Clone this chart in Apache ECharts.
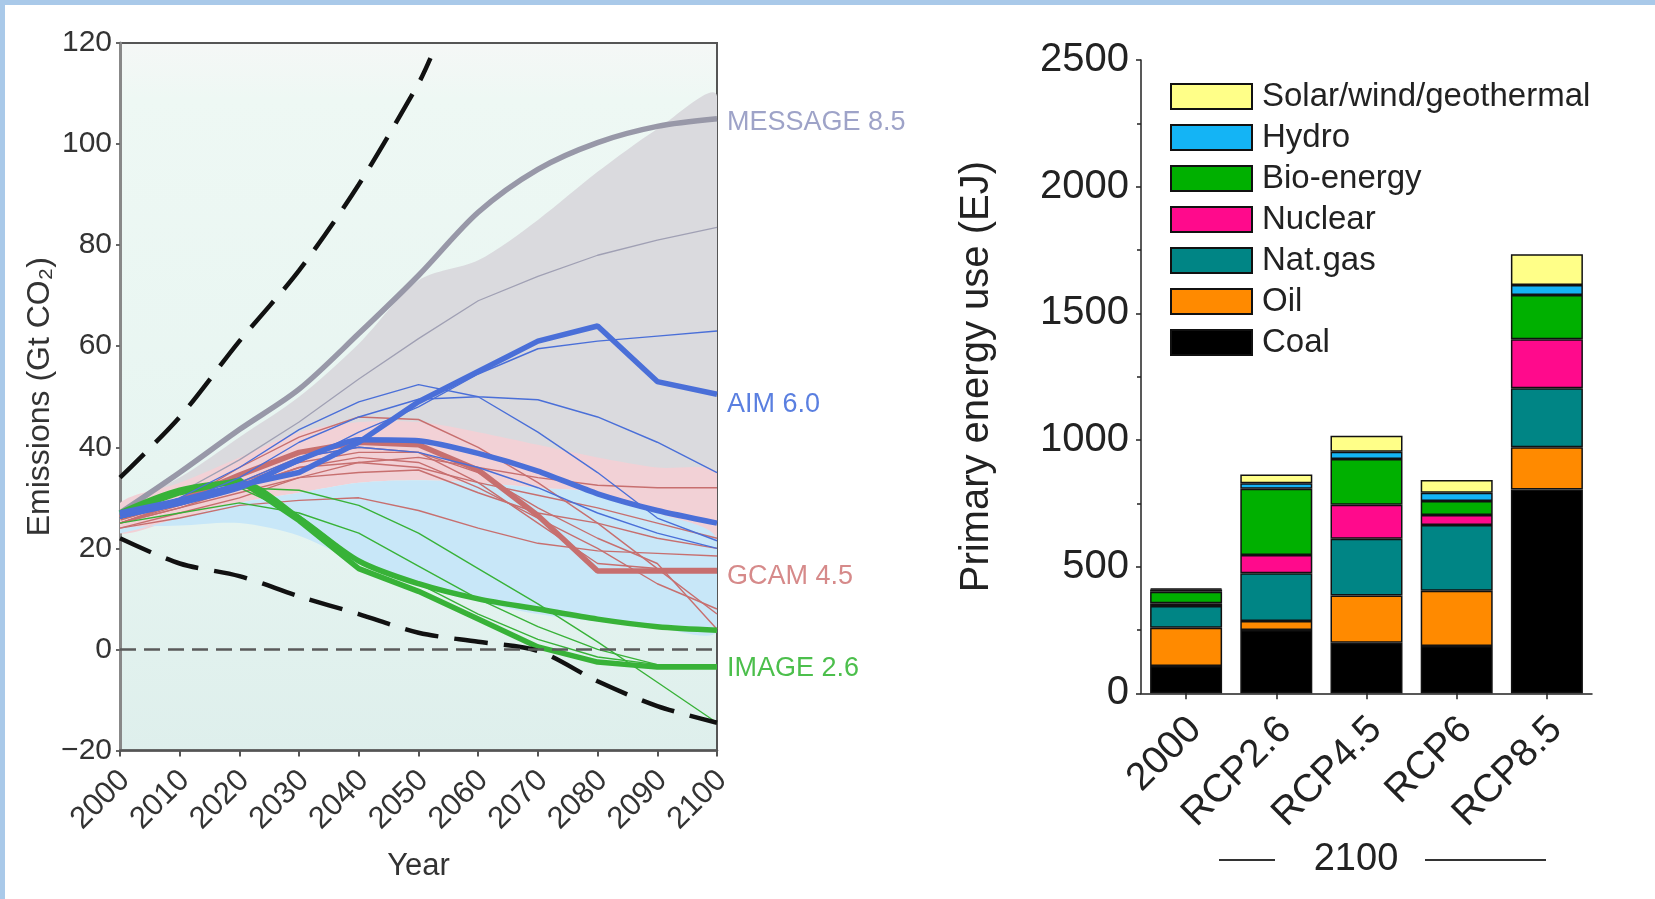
<!DOCTYPE html>
<html>
<head>
<meta charset="utf-8">
<script src="https://cdn.jsdelivr.net/npm/echarts@6/dist/echarts.min.js"></script>
<style>
  html, body { margin:0; padding:0; background:#fff; }
  #chart { position:absolute; left:0; top:0; width:1655px; height:899px; }
  #btop { position:absolute; left:0; top:0; width:1655px; height:5px; background:#a9c9e9; }
  #bleft { position:absolute; left:0; top:0; width:5px; height:899px; background:#a9c9e9; }
</style>
</head>
<body>
<div id="chart"></div>
<div id="btop"></div>
<div id="bleft"></div>
<script>
// ---------- Left panel: emissions (Gt CO2) ----------
const years = [2000, 2010, 2020, 2030, 2040, 2050, 2060, 2070, 2080, 2090, 2100];
const yTicksLeft = [-20, 0, 20, 40, 60, 80, 100, 120];

const upperDashYears = [2000, 2010, 2020, 2030, 2040, 2050, 2052];
const upperDash = [34, 46, 61, 75, 92, 112, 117];
const lowerDash = [22, 17, 14.5, 10.5, 7, 3.3, 1.5, -0.3, -6.3, -11.2, -14.5];

const grayBandLow  = [26, 30, 34, 37, 40, 40, 38, 36, 34, 33, 33];
const grayBandHigh = [28, 34, 42, 50, 60.5, 73, 77, 85, 94.5, 103, 109.5];
const pinkBandLow  = [23, 26, 29, 31, 33, 33.5, 33, 32, 31, 27, 22];
const pinkBandHigh = [29, 33, 38, 43, 45, 45, 43, 40.5, 38, 36, 35];
const blueBandLow  = [24, 24.5, 25, 22.5, 17, 12.5, 9.5, 7, 5.5, 4.3, 3.5];
const blueBandHigh = [23, 26, 29, 31, 33, 33.5, 33, 32, 31, 27, 22];

const message85 = [27, 35, 43.5, 51.5, 62.5, 74, 86.5, 95, 100.3, 103.5, 105];
const messageThin = [26, 31, 37.5, 45, 53.5, 61.5, 69, 73.8, 78, 81, 83.5];

const aim60 = [27, 29.5, 32.5, 35, 41, 49, 55, 61, 64, 53, 50.5];
const blueThick2 = [26.5, 29, 32, 37.5, 41.5, 41.3, 38.8, 35.3, 30.8, 27.5, 25];
const blueThin1 = [26, 30, 36, 43.5, 49, 52.4, 50, 49.4, 46, 41, 35];
const blueThin2 = [26, 29, 34, 41, 46, 49.5, 50, 43, 35, 26, 21.5];
const blueThin3 = [26, 28.5, 32, 37, 43, 48, 54.5, 59.5, 61, 62, 63];
const blueThin4 = [26, 29, 33, 38, 40, 39, 36, 32, 27, 23, 20];

const gcam45 = [26, 29.5, 34.5, 39, 41, 40.5, 35.5, 26.5, 15.5, 15.5, 15.5];
const redThin1 = [25, 29, 36, 42, 46, 45.5, 40, 33, 25, 16, 7];
const redThin2 = [25, 29, 33, 38, 40, 39, 35, 28, 22, 17, 4];
const redThin3 = [24, 27, 30, 34, 37, 38, 36, 34, 32.5, 32, 32];
const redThin4 = [24, 26, 28.5, 29.5, 30, 27.5, 24, 21, 19.5, 19, 18.5];
const redThin5 = [25, 28, 32, 36, 37, 36, 33, 30.5, 28, 25, 22];
const redThin6 = [25, 28, 31, 34, 35, 35.5, 31, 27, 25, 22, 20];
const redThin7 = [25, 29, 33, 37, 39, 39, 33, 25, 17, 16, 16];
const redThin8 = [25, 28.5, 32, 36, 38, 37, 32, 26, 20, 13, 8];

const image26 = [27, 31, 33.5, 25.5, 16, 11.5, 6, 0.5, -2.5, -3.5, -3.5];
const greenThick2 = [27, 31.5, 33, 26, 17.5, 13, 10, 8, 6, 4.5, 3.8];
const greenThin1 = [26, 29, 32, 31.5, 28.5, 23, 16, 9, 1.5, -6.5, -14.5];
const greenThin2 = [25, 27, 29, 27, 23, 16.5, 10, 4.5, 0, -3, -3.5];
const greenThin3 = [26, 29, 32, 26.5, 17.5, 13, 7, 2, -1.5, -3, -3];

// ---------- Right panel: primary energy use (EJ) ----------
const categories = ['2000', 'RCP2.6', 'RCP4.5', 'RCP6', 'RCP8.5'];
const coal    = [108, 250, 200, 187, 805];
const oil     = [151, 35, 186, 218, 166];
const natgas  = [86, 189, 224, 259, 233];
const nuclear = [10, 72, 134, 40, 194];
const bio     = [46, 261, 181, 55, 174];
const hydro   = [9, 22, 29, 33, 40];
const solar   = [4, 35, 63, 50, 121];
const energyNames = ['Coal', 'Oil', 'Nat.gas', 'Nuclear', 'Bio-energy', 'Hydro', 'Solar/wind/geothermal'];
const energyColors = ['#000000', '#ff8a00', '#008585', '#ff0a8c', '#00b000', '#14b4f5', '#ffff88'];

// ---------- build ----------
const FONT = '"Liberation Sans", Arial, Helvetica, sans-serif';
const pairs = (xs, ys) => xs.map((x, i) => [x, ys[i]]);

function ln(name, xs, data, color, width, extra) {
  return Object.assign({
    type: 'line', name: name, xAxisIndex: 0, yAxisIndex: 0,
    data: pairs(xs, data), symbol: 'none', silent: true,
    lineStyle: { color: color, width: width }, itemStyle: { color: color }
  }, extra || {});
}
function band(key, low, high, color) {
  return {
    type: 'custom', name: key, xAxisIndex: 0, yAxisIndex: 0, silent: true, clip: true,
    data: [[years[0], low[0]]],
    renderItem: function (params, api) {
      const top = years.map((y, i) => api.coord([y, high[i]]));
      const bot = years.map((y, i) => api.coord([y, low[i]])).reverse();
      return { type: 'polygon', shape: { points: top.concat(bot), smooth: 0.3 }, style: { fill: color } };
    }
  };
}
function endLbl(text, color, dy) {
  return { show: true, formatter: text, color: color, fontSize: 27, fontFamily: FONT, distance: 10, offset: [0, dy] };
}

const BLUE = '#4a6fd8', RED = '#c76f6f', GREEN = '#38b238', GRAY = '#9898a8';
const TW = 5.5;

const series = [
  band('gray', grayBandLow, grayBandHigh, '#dadade'),
  band('pink', pinkBandLow, pinkBandHigh, '#f2d1d6'),
  band('blue', blueBandLow, blueBandHigh, '#c8e7f8'),
  ln('messageThin', years, messageThin, '#a0a0b4', 1.3),
  ln('MESSAGE 8.5', years, message85, GRAY, TW, { smooth: 0.3, endLabel: endLbl('MESSAGE 8.5', '#9ea3c8', 4) }),
  ln('r1', years, redThin1, RED, 1.4), ln('r2', years, redThin2, RED, 1.4),
  ln('r3', years, redThin3, RED, 1.4), ln('r4', years, redThin4, RED, 1.4),
  ln('r5', years, redThin5, RED, 1.4), ln('r6', years, redThin6, RED, 1.4),
  ln('r7', years, redThin7, RED, 1.4), ln('r8', years, redThin8, RED, 1.4),
  ln('GCAM 4.5', years, gcam45, RED, TW, { endLabel: endLbl('GCAM 4.5', '#d68a8a', 5) }),
  ln('g1', years, greenThin1, GREEN, 1.4), ln('g2', years, greenThin2, GREEN, 1.4),
  ln('g3', years, greenThin3, GREEN, 1.4),
  ln('greenThick2', years, greenThick2, GREEN, TW, { smooth: 0.3 }),
  ln('IMAGE 2.6', years, image26, GREEN, TW, { endLabel: endLbl('IMAGE 2.6', '#4cbf4c', 1) }),
  ln('b1', years, blueThin1, BLUE, 1.4), ln('b2', years, blueThin2, BLUE, 1.4),
  ln('b3', years, blueThin3, BLUE, 1.4), ln('b4', years, blueThin4, BLUE, 1.4),
  ln('blueThick2', years, blueThick2, BLUE, TW, { smooth: 0.2 }),
  ln('AIM 6.0', years, aim60, BLUE, TW, { endLabel: endLbl('AIM 6.0', '#5a7fe0', 10) }),
  ln('upperDash', upperDashYears, upperDash, '#111', 4.5, { smooth: 0.3, lineStyle: { color: '#111', width: 4.5, type: [34, 16] } }),
  ln('lowerDash', years, lowerDash, '#111', 4.5, {
    smooth: 0.3, lineStyle: { color: '#111', width: 4.5, type: [34, 16] },
    markLine: { silent: true, symbol: 'none', label: { show: false },
      lineStyle: { color: '#5a5a5a', width: 2.5, type: [16, 8] }, data: [{ yAxis: 0 }] }
  })
];

const energyData = [coal, oil, natgas, nuclear, bio, hydro, solar];
energyNames.forEach((n, i) => {
  series.push({
    type: 'bar', name: n, stack: 'energy', xAxisIndex: 1, yAxisIndex: 1,
    data: energyData[i], barWidth: 72,
    itemStyle: { color: energyColors[i], borderColor: '#111', borderWidth: 1.5 }
  });
});

const chart = echarts.init(document.getElementById('chart'), null, { renderer: 'canvas' });
chart.setOption({
  animation: false,
  textStyle: { fontFamily: FONT },
  grid: [
    { left: 120, top: 43, width: 597, height: 707.5, show: true, borderColor: '#555', borderWidth: 2,
      backgroundColor: new echarts.graphic.LinearGradient(0, 0, 0, 1, [
        { offset: 0, color: '#f5f7f6' }, { offset: 0.08, color: '#eef8f4' },
        { offset: 0.6, color: '#e7f5f1' }, { offset: 1, color: '#deefec' }]) },
    { left: 1141, top: 60, width: 451, height: 633.3 }
  ],
  xAxis: [
    { gridIndex: 0, type: 'value', min: 2000, max: 2100, interval: 10,
      axisLine: { show: true, onZero: false, lineStyle: { color: '#555', width: 2.5 } },
      axisTick: { show: true, length: 6, lineStyle: { color: '#555', width: 2 } },
      axisLabel: { rotate: 45, fontSize: 31, color: '#333', margin: 20, align: 'right', verticalAlign: 'top', lineHeight: 14, formatter: v => String(v) },
      splitLine: { show: false },
      name: 'Year', nameLocation: 'middle', nameGap: 100, nameTextStyle: { fontSize: 31, color: '#333' } },
    { gridIndex: 1, type: 'category', data: categories,
      axisLine: { show: true, lineStyle: { color: '#222', width: 1.5 } },
      axisTick: { show: true, alignWithLabel: true, length: 6, lineStyle: { color: '#222', width: 1.5 } },
      axisLabel: { rotate: 45, fontSize: 39, color: '#222', margin: 21, align: 'right', verticalAlign: 'top', lineHeight: 26, interval: 0 } }
  ],
  yAxis: [
    { gridIndex: 0, type: 'value', min: yTicksLeft[0], max: yTicksLeft[yTicksLeft.length - 1], interval: 20,
      axisLine: { show: true, onZero: false, lineStyle: { color: '#888', width: 3 } },
      axisTick: { show: true, length: 4, lineStyle: { color: '#666', width: 2 } },
      axisLabel: { fontSize: 30, color: '#333', margin: 8, formatter: v => (v < 0 ? '\u2212' + Math.abs(v) : String(v)) },
      splitLine: { show: false },
      name: 'Emissions (Gt CO\u2082)', nameLocation: 'middle', nameGap: 64, nameRotate: 90,
      nameTextStyle: { fontSize: 32, color: '#333' } },
    { gridIndex: 1, type: 'value', min: 0, max: 2500, interval: 500,
      axisLine: { show: true, lineStyle: { color: '#222', width: 1.5 } },
      axisTick: { show: true, length: 5, lineStyle: { color: '#222', width: 1.5 } },
      minorTick: { show: true, splitNumber: 2, length: 4, lineStyle: { color: '#222', width: 1.5 } },
      axisLabel: { fontSize: 40, color: '#222', margin: 12, formatter: v => String(v) },
      splitLine: { show: false }, minorSplitLine: { show: false },
      name: 'Primary energy use (EJ)', nameLocation: 'middle', nameGap: 144, nameRotate: 90,
      nameTextStyle: { fontSize: 40, color: '#222' } }
  ],
  legend: {
    data: energyNames.slice().reverse(), orient: 'vertical', left: 1165, top: 75,
    itemWidth: 81, itemHeight: 25, itemGap: 8, icon: 'rect', selectedMode: false,
    textStyle: { fontSize: 33, color: '#222', padding: [0, 0, 0, 5] }
  },
  graphic: [
    { type: 'text', x: 1356, y: 860, style: { text: '2100', fontSize: 38, fontFamily: FONT, fill: '#222', align: 'center', verticalAlign: 'middle' } },
    { type: 'line', shape: { x1: 1219, y1: 860, x2: 1275, y2: 860 }, style: { stroke: '#333', lineWidth: 2 } },
    { type: 'line', shape: { x1: 1425, y1: 860, x2: 1546, y2: 860 }, style: { stroke: '#333', lineWidth: 2 } }
  ],
  series: series
});
</script>
</body>
</html>
